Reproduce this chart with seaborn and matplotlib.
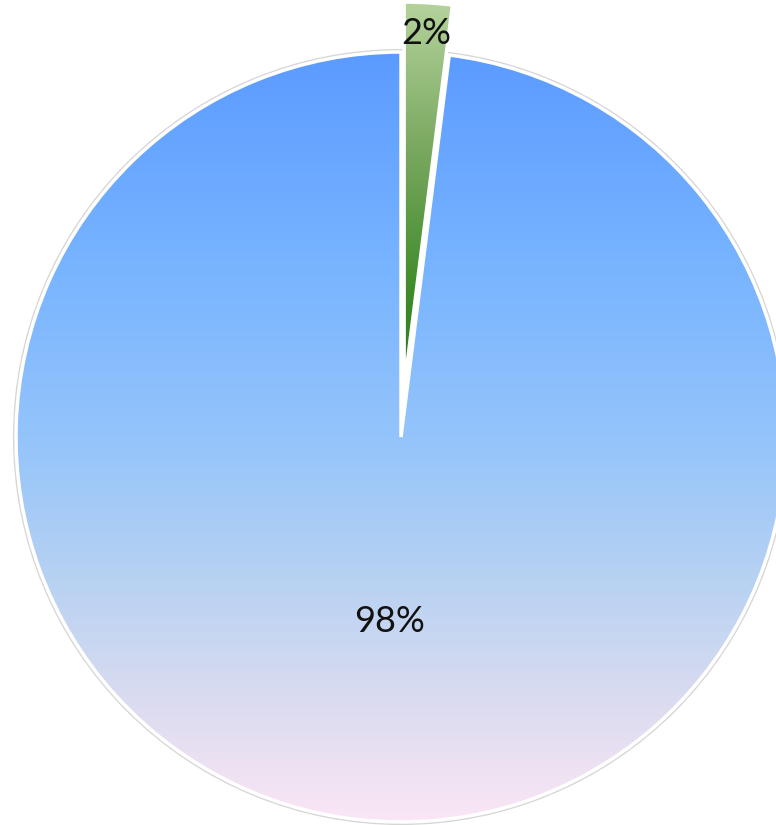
import numpy as np
import seaborn as sns
import matplotlib.pyplot as plt
from matplotlib.colors import LinearSegmentedColormap

categories = ["Minor", "Major"]
shares = [2, 98]
explode = [0.13, 0.0]  # fraction of radius

# vertical gradients (top -> bottom) for each slice, as (position, colour)
GRADIENTS = {
    "Minor": [(0.0, "#b4d39c"), (0.38, "#7aa860"), (0.77, "#3c8a28"), (1.0, "#2a7818")],
    "Major": [(0.0, "#5b9bff"), (0.28, "#78b4ff"), (0.5, "#94c4fb"),
              (0.69, "#b8d2f2"), (0.85, "#dcdcf0"), (1.0, "#fbe6f5")],
}

sns.set_theme(style="white")
plt.rcParams["font.family"] = ["Lato", "DejaVu Sans"]

fig = plt.figure(figsize=(7.76, 8.25), dpi=100)
ax = fig.add_axes([0, 0, 1, 1])

cx, cy, r = 401, 388, 385

wedges, texts, autotexts = ax.pie(
    shares,
    explode=[e * r for e in explode],
    startangle=90,
    counterclock=False,
    radius=r,
    center=(cx, cy),
    autopct="%1.0f%%",
    pctdistance=0.48,
    wedgeprops={"edgecolor": "white", "linewidth": 2.5},
    textprops={"fontsize": 26, "color": "#111111"},
    frame=False,
)
ax.set_xlim(0, 776)
ax.set_ylim(0, 825)
ax.set_aspect("equal")
ax.axis("off")

# small label near the outer edge of its slice
mid = np.deg2rad(90 - 360 * shares[0] / sum(shares) / 2)
autotexts[0].set_position(
    (wedges[0].center[0] + 0.92 * r * np.cos(mid),
     wedges[0].center[1] + 0.92 * r * np.sin(mid))
)

# faint shadow ring around the pie
shadow = plt.Circle((cx, cy), r + 2, facecolor="none", edgecolor="#d6d6d6", linewidth=1.5, zorder=0)
ax.add_patch(shadow)

for wedge, name in zip(wedges, categories):
    cmap = LinearSegmentedColormap.from_list(name, GRADIENTS[name])
    wx, wy = wedge.center
    # gradient runs over the slice's own vertical extent
    if wedge.theta2 - wedge.theta1 < 180:
        y0, y1 = wy, wy + r
    else:
        y0, y1 = wy - r, wy + r
    grad = np.linspace(1, 0, 256).reshape(-1, 1)
    img = ax.imshow(
        grad, cmap=cmap, aspect="auto", origin="lower",
        extent=(wx - r, wx + r, y0, y1), zorder=1.5,
    )
    img.set_clip_path(wedge)
    wedge.set_facecolor("none")
    wedge.set_zorder(2)

ax.set_xlim(0, 776)
ax.set_ylim(0, 825)

for t in autotexts:
    t.set_zorder(3)

fig.savefig("out.png", dpi=100, facecolor="white")
